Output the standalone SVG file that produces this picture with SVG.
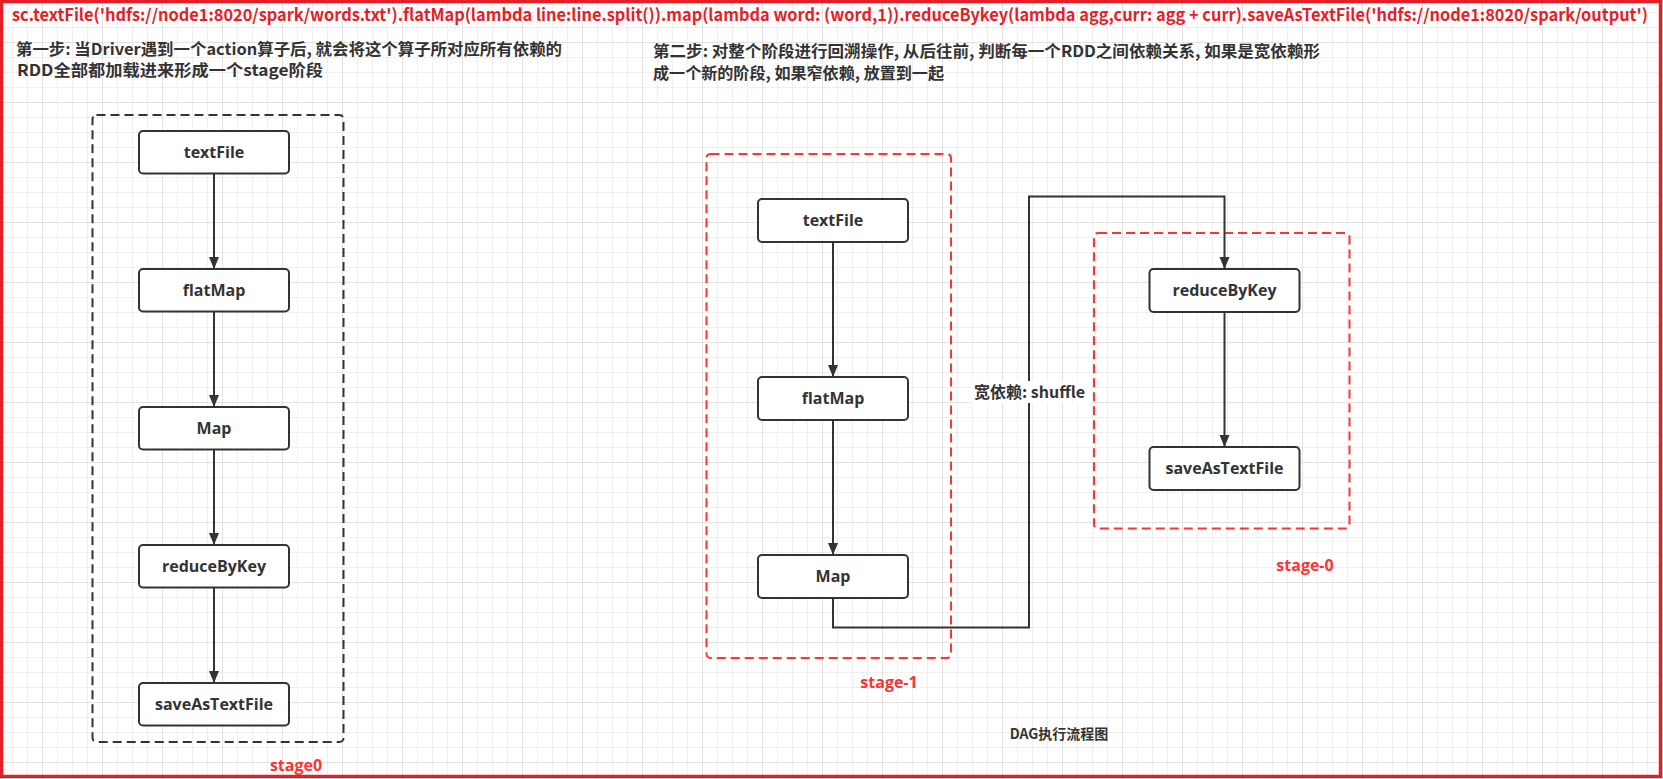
<svg xmlns="http://www.w3.org/2000/svg" width="1663" height="779" viewBox="0 0 1663 779">
<style>
.node rect{fill:#fff;stroke:#333;stroke-width:2}
.node text{font-family:"Open Sans","Noto Sans",sans-serif;font-weight:700;font-size:16px;fill:#333;text-anchor:middle}
.stage-black{fill:none;stroke:#333;stroke-width:2;stroke-dasharray:9 5}
.stage-red{fill:none;stroke:#ff3333;stroke-width:2;stroke-dasharray:9 5}
.conn{fill:none;stroke:#333;stroke-width:2}
.cn{font-family:"Noto Sans CJK SC","Noto Sans",sans-serif;font-weight:700;font-size:16px;fill:#333}
.stagelbl{font-family:"Open Sans","Noto Sans",sans-serif;font-weight:700;font-size:16px;fill:#ff3333;text-anchor:middle}
</style>
<defs>
<pattern id="grid" width="60" height="60" patternUnits="userSpaceOnUse" x="42" y="42">
<path d="M15.5 0V60M30.5 0V60M45.5 0V60M0 15.5H60M0 30.5H60M0 45.5H60" stroke="#efefef" stroke-width="1" fill="none"/>
<path d="M0.5 0V60M0 0.5H60" stroke="#e2e2e2" stroke-width="1" fill="none"/>
</pattern>
<marker id="arrow" markerWidth="12" markerHeight="12" viewBox="0 0 12 12" refX="12" refY="6" orient="auto" markerUnits="userSpaceOnUse">
<path d="M0 1 L12 6 L0 11 Z" fill="#333"/>
</marker>
</defs>
<rect width="1663" height="779" fill="#fff"/>
<rect width="1663" height="779" fill="url(#grid)"/>
<rect x="1.5" y="1.5" width="1659" height="775" fill="none" stroke="#e61e28" stroke-width="3.5"/>

<text x="12" y="21" font-family="'Noto Sans CJK SC','Noto Sans',sans-serif" font-weight="700" font-size="16.5" fill="#e61e28" textLength="1636" lengthAdjust="spacingAndGlyphs">sc.textFile('hdfs://node1:8020/spark/words.txt').flatMap(lambda line:line.split()).map(lambda word: (word,1)).reduceBykey(lambda agg,curr: agg + curr).saveAsTextFile('hdfs://node1:8020/spark/output')</text>

<g id="step1-text">
<text class="cn" x="16" y="55" textLength="546" lengthAdjust="spacingAndGlyphs">第一步: 当Driver遇到一个action算子后, 就会将这个算子所对应所有依赖的</text>
<text class="cn" x="17" y="76" textLength="306" lengthAdjust="spacingAndGlyphs">RDD全部都加载进来形成一个stage阶段</text>
</g>
<g id="step2-text">
<text class="cn" x="653" y="57" textLength="667" lengthAdjust="spacingAndGlyphs">第二步: 对整个阶段进行回溯操作, 从后往前, 判断每一个RDD之间依赖关系, 如果是宽依赖形</text>
<text class="cn" x="653" y="79" textLength="291" lengthAdjust="spacingAndGlyphs">成一个新的阶段, 如果窄依赖, 放置到一起</text>
</g>

<g id="stage0-left">
<rect class="stage-black" x="92.5" y="115" width="251" height="627" rx="4"/>
<text class="stagelbl" x="296" y="771">stage0</text>
</g>
<g id="stage-1">
<rect class="stage-red" x="706.5" y="154" width="244.5" height="504" rx="4"/>
<text class="stagelbl" x="889" y="688">stage-1</text>
</g>
<g id="stage-0">
<rect class="stage-red" x="1094" y="233" width="255.5" height="295.5" rx="4"/>
<text class="stagelbl" x="1305" y="571">stage-0</text>
</g>

<g id="connectors">
<path class="conn" d="M214 173V269" marker-end="url(#arrow)"/>
<path class="conn" d="M214 311V407" marker-end="url(#arrow)"/>
<path class="conn" d="M214 449V545" marker-end="url(#arrow)"/>
<path class="conn" d="M214 587V683" marker-end="url(#arrow)"/>
<path class="conn" d="M833 242V377" marker-end="url(#arrow)"/>
<path class="conn" d="M833 420V555" marker-end="url(#arrow)"/>
<path class="conn" d="M833 598V627.5H1029V196.5H1224.5V269" marker-end="url(#arrow)"/>
<path class="conn" d="M1224.5 312V447" marker-end="url(#arrow)"/>
<rect x="971" y="381" width="120" height="22" fill="#fff"/>
<text class="cn" x="974" y="398">宽依赖: shuffle</text>
</g>

<g id="l-textFile" class="node"><rect x="139" y="131" width="150" height="42.5" rx="4"/><text x="214" y="158">textFile</text></g>
<g id="l-flatMap" class="node"><rect x="139" y="269" width="150" height="42.5" rx="4"/><text x="214" y="296">flatMap</text></g>
<g id="l-Map" class="node"><rect x="139" y="407" width="150" height="42.5" rx="4"/><text x="214" y="434">Map</text></g>
<g id="l-reduceByKey" class="node"><rect x="139" y="545" width="150" height="42.5" rx="4"/><text x="214" y="572">reduceByKey</text></g>
<g id="l-saveAsTextFile" class="node"><rect x="139" y="683" width="150" height="42.5" rx="4"/><text x="214" y="710">saveAsTextFile</text></g>

<g id="r-textFile" class="node"><rect x="758" y="199" width="150" height="43" rx="4"/><text x="833" y="226">textFile</text></g>
<g id="r-flatMap" class="node"><rect x="758" y="377" width="150" height="43" rx="4"/><text x="833" y="404">flatMap</text></g>
<g id="r-Map" class="node"><rect x="758" y="555" width="150" height="43" rx="4"/><text x="833" y="582">Map</text></g>
<g id="r-reduceByKey" class="node"><rect x="1149.5" y="269" width="150" height="43" rx="4"/><text x="1224.5" y="296">reduceByKey</text></g>
<g id="r-saveAsTextFile" class="node"><rect x="1149.5" y="447" width="150" height="43" rx="4"/><text x="1224.5" y="474">saveAsTextFile</text></g>

<text x="1059" y="739" font-family="'Noto Sans CJK SC','Noto Sans',sans-serif" font-weight="700" font-size="14" fill="#333" text-anchor="middle">DAG执行流程图</text>
</svg>
